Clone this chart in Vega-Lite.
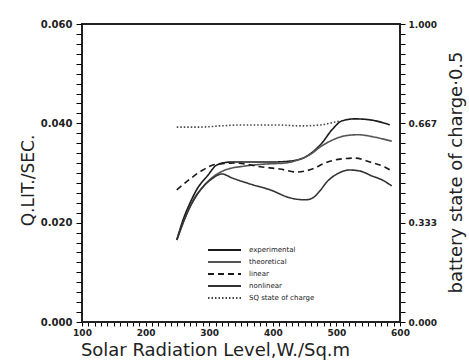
{
  "$schema": "https://vega.github.io/schema/vega-lite/v6.json",
  "width": 318,
  "height": 298,
  "autosize": "none",
  "padding": {"left": 82, "top": 24, "right": 69, "bottom": 39},
  "config": {
    "view": {"stroke": "#222", "strokeWidth": 2},
    "axis": {
      "grid": false,
      "labelOverlap": false,
      "labelFlush": false,
      "domainColor": "#222",
      "tickColor": "black",
      "tickSize": 6,
      "labelFont": "DejaVu Sans",
      "labelFontWeight": "bold",
      "labelColor": "#222",
      "titleFont": "DejaVu Sans",
      "titleFontWeight": "normal",
      "titleColor": "#222"
    },
    "legend": {
      "orient": "none",
      "legendX": 125,
      "legendY": 220,
      "padding": 0,
      "symbolType": "stroke",
      "symbolSize": 1089,
      "symbolStrokeWidth": 1.8,
      "clipHeight": 12,
      "rowPadding": 0,
      "labelOffset": 7,
      "labelFont": "DejaVu Sans",
      "labelFontSize": 7,
      "labelColor": "#222"
    }
  },
  "layer": [
    {
      "data": {
        "values": [
          {"series": "experimental", "radiation": 249, "flow": 0.0165},
          {"series": "experimental", "radiation": 259, "flow": 0.0206},
          {"series": "experimental", "radiation": 270, "flow": 0.0240},
          {"series": "experimental", "radiation": 282, "flow": 0.0270},
          {"series": "experimental", "radiation": 297, "flow": 0.0294},
          {"series": "experimental", "radiation": 312, "flow": 0.0316},
          {"series": "experimental", "radiation": 333, "flow": 0.0322},
          {"series": "experimental", "radiation": 364, "flow": 0.0322},
          {"series": "experimental", "radiation": 396, "flow": 0.0322},
          {"series": "experimental", "radiation": 427, "flow": 0.0324},
          {"series": "experimental", "radiation": 451, "flow": 0.0332},
          {"series": "experimental", "radiation": 466, "flow": 0.0346},
          {"series": "experimental", "radiation": 477, "flow": 0.0360},
          {"series": "experimental", "radiation": 493, "flow": 0.0387},
          {"series": "experimental", "radiation": 509, "flow": 0.0405},
          {"series": "experimental", "radiation": 529, "flow": 0.0409},
          {"series": "experimental", "radiation": 553, "flow": 0.0407},
          {"series": "experimental", "radiation": 584, "flow": 0.0397},
          {"series": "theoretical", "radiation": 249, "flow": 0.0165},
          {"series": "theoretical", "radiation": 262, "flow": 0.0209},
          {"series": "theoretical", "radiation": 275, "flow": 0.0246},
          {"series": "theoretical", "radiation": 289, "flow": 0.0270},
          {"series": "theoretical", "radiation": 304, "flow": 0.0290},
          {"series": "theoretical", "radiation": 325, "flow": 0.0306},
          {"series": "theoretical", "radiation": 356, "flow": 0.0314},
          {"series": "theoretical", "radiation": 388, "flow": 0.0318},
          {"series": "theoretical", "radiation": 419, "flow": 0.0320},
          {"series": "theoretical", "radiation": 443, "flow": 0.0328},
          {"series": "theoretical", "radiation": 462, "flow": 0.0340},
          {"series": "theoretical", "radiation": 474, "flow": 0.0352},
          {"series": "theoretical", "radiation": 490, "flow": 0.0364},
          {"series": "theoretical", "radiation": 514, "flow": 0.0375},
          {"series": "theoretical", "radiation": 534, "flow": 0.0377},
          {"series": "theoretical", "radiation": 561, "flow": 0.0372},
          {"series": "theoretical", "radiation": 587, "flow": 0.0364},
          {"series": "linear", "radiation": 249, "flow": 0.0266},
          {"series": "linear", "radiation": 270, "flow": 0.0288},
          {"series": "linear", "radiation": 290, "flow": 0.0306},
          {"series": "linear", "radiation": 312, "flow": 0.0318},
          {"series": "linear", "radiation": 341, "flow": 0.0320},
          {"series": "linear", "radiation": 383, "flow": 0.0312},
          {"series": "linear", "radiation": 411, "flow": 0.0308},
          {"series": "linear", "radiation": 438, "flow": 0.0302},
          {"series": "linear", "radiation": 462, "flow": 0.0308},
          {"series": "linear", "radiation": 482, "flow": 0.0320},
          {"series": "linear", "radiation": 506, "flow": 0.0328},
          {"series": "linear", "radiation": 529, "flow": 0.0330},
          {"series": "linear", "radiation": 553, "flow": 0.0322},
          {"series": "linear", "radiation": 576, "flow": 0.0312},
          {"series": "linear", "radiation": 587, "flow": 0.0304},
          {"series": "nonlinear", "radiation": 249, "flow": 0.0165},
          {"series": "nonlinear", "radiation": 263, "flow": 0.0213},
          {"series": "nonlinear", "radiation": 276, "flow": 0.0246},
          {"series": "nonlinear", "radiation": 290, "flow": 0.0272},
          {"series": "nonlinear", "radiation": 304, "flow": 0.0288},
          {"series": "nonlinear", "radiation": 320, "flow": 0.0298},
          {"series": "nonlinear", "radiation": 336, "flow": 0.0290},
          {"series": "nonlinear", "radiation": 364, "flow": 0.0278},
          {"series": "nonlinear", "radiation": 396, "flow": 0.0266},
          {"series": "nonlinear", "radiation": 427, "flow": 0.0250},
          {"series": "nonlinear", "radiation": 451, "flow": 0.0246},
          {"series": "nonlinear", "radiation": 463, "flow": 0.0250},
          {"series": "nonlinear", "radiation": 474, "flow": 0.0264},
          {"series": "nonlinear", "radiation": 485, "flow": 0.0282},
          {"series": "nonlinear", "radiation": 501, "flow": 0.0298},
          {"series": "nonlinear", "radiation": 521, "flow": 0.0306},
          {"series": "nonlinear", "radiation": 537, "flow": 0.0304},
          {"series": "nonlinear", "radiation": 556, "flow": 0.0294},
          {"series": "nonlinear", "radiation": 572, "flow": 0.0286},
          {"series": "nonlinear", "radiation": 587, "flow": 0.0274}
        ]
      },
      "mark": {"type": "line", "strokeWidth": 1.6, "interpolate": "monotone"},
      "encoding": {
        "x": {
          "field": "radiation", "type": "quantitative",
          "scale": {"domain": [100, 600], "nice": false, "zero": false},
          "axis": {
            "title": "Solar Radiation Level,W./Sq.m",
            "titleFontSize": 18,
            "titleX": 133,
            "titleY": 28,
            "titleAlign": "center",
            "titleBaseline": "middle",
            "labelFontSize": 9,
            "labelPadding": 2,
            "labelFlush": false,
            "ticks": true,
            "tickSize": 4,
            "tickWidth": 1,
            "tickColor": "black",
            "tickCount": 500,
            "labelOverlap": false,
            "values": [100,110,120,130,140,150,160,170,180,190,200,210,220,230,240,250,260,270,280,290,300,310,320,330,340,350,360,370,380,390,400,410,420,430,440,450,460,470,480,490,500,510,520,530,540,550,560,570,580,590,600],
            "labelExpr": "datum.value % 100 == 0 ? datum.value : ''"
          }
        },
        "y": {
          "field": "flow", "type": "quantitative",
          "scale": {"domain": [0, 0.06], "nice": false},
          "axis": {
            "orient": "left",
            "title": "Q.LIT./SEC.",
            "titleFontSize": 17,
            "titleAngle": 270,
            "titleX": -54,
            "titleY": 156,
            "titleAlign": "center",
            "titleBaseline": "middle",
            "labelFontSize": 10,
            "labelPadding": 4,
            "labelFlush": false,
            "ticks": true,
            "tickWidth": 1,
            "tickColor": "black",
            "tickSize": 6,
            "tickCount": 500,
            "labelOverlap": false,
            "values": [0,0.002,0.004,0.006,0.008,0.01,0.012,0.014,0.016,0.018,0.02,0.022,0.024,0.026,0.028,0.03,0.032,0.034,0.036,0.038,0.04,0.042,0.044,0.046,0.048,0.05,0.052,0.054,0.056,0.058,0.06],
            "labelExpr": "abs(datum.value*50 - round(datum.value*50)) < 0.001 ? format(datum.value, '.3f') : ''"
          }
        },
        "color": {
          "field": "series", "type": "nominal",
          "scale": {
            "domain": ["experimental", "theoretical", "linear", "nonlinear", "SQ state of charge"],
            "range": ["#1a1a1a", "#555555", "#1a1a1a", "#333333", "#444444"]
          },
          "legend": {"title": null}
        },
        "strokeDash": {
          "field": "series", "type": "nominal",
          "scale": {
            "domain": ["experimental", "theoretical", "linear", "nonlinear", "SQ state of charge"],
            "range": [[1, 0], [1, 0], [6, 4], [1, 0], [1.5, 2]]
          },
          "legend": {"title": null}
        }
      }
    },
    {
      "data": {
        "values": [
          {"series": "SQ state of charge", "radiation": 249, "soc": 0.654},
          {"series": "SQ state of charge", "radiation": 286, "soc": 0.654},
          {"series": "SQ state of charge", "radiation": 317, "soc": 0.658},
          {"series": "SQ state of charge", "radiation": 348, "soc": 0.661},
          {"series": "SQ state of charge", "radiation": 380, "soc": 0.661},
          {"series": "SQ state of charge", "radiation": 411, "soc": 0.661},
          {"series": "SQ state of charge", "radiation": 443, "soc": 0.658},
          {"series": "SQ state of charge", "radiation": 474, "soc": 0.661},
          {"series": "SQ state of charge", "radiation": 498, "soc": 0.671},
          {"series": "SQ state of charge", "radiation": 506, "soc": 0.675}
        ]
      },
      "mark": {"type": "line", "strokeWidth": 1.6, "interpolate": "monotone"},
      "encoding": {
        "x": {"field": "radiation", "type": "quantitative"},
        "y": {
          "field": "soc", "type": "quantitative",
          "scale": {"domain": [0, 1], "nice": false},
          "axis": {
            "orient": "right",
            "title": "battery state of charge·0.5",
            "titleFontSize": 18,
            "titleAngle": 270,
            "titleX": 56,
            "titleY": 148,
            "titleAlign": "center",
            "titleBaseline": "middle",
            "labelFontSize": 9,
            "labelPadding": 3,
            "labelFlush": false,
            "ticks": true,
            "tickWidth": 1,
            "tickColor": "black",
            "tickSize": 5,
            "tickCount": 500,
            "labelOverlap": false,
            "values": [0,0.03333,0.06667,0.1,0.13333,0.16667,0.2,0.23333,0.26667,0.3,0.33333,0.36667,0.4,0.43333,0.46667,0.5,0.53333,0.56667,0.6,0.63333,0.66667,0.7,0.73333,0.76667,0.8,0.83333,0.86667,0.9,0.93333,0.96667,1],
            "labelExpr": "abs(datum.value*3 - round(datum.value*3)) < 0.001 ? format(datum.value, '.3f') : ''"
          }
        },
        "color": {"field": "series", "type": "nominal"},
        "strokeDash": {"field": "series", "type": "nominal"}
      }
    }
  ],
  "resolve": {"scale": {"y": "independent"}}
}
